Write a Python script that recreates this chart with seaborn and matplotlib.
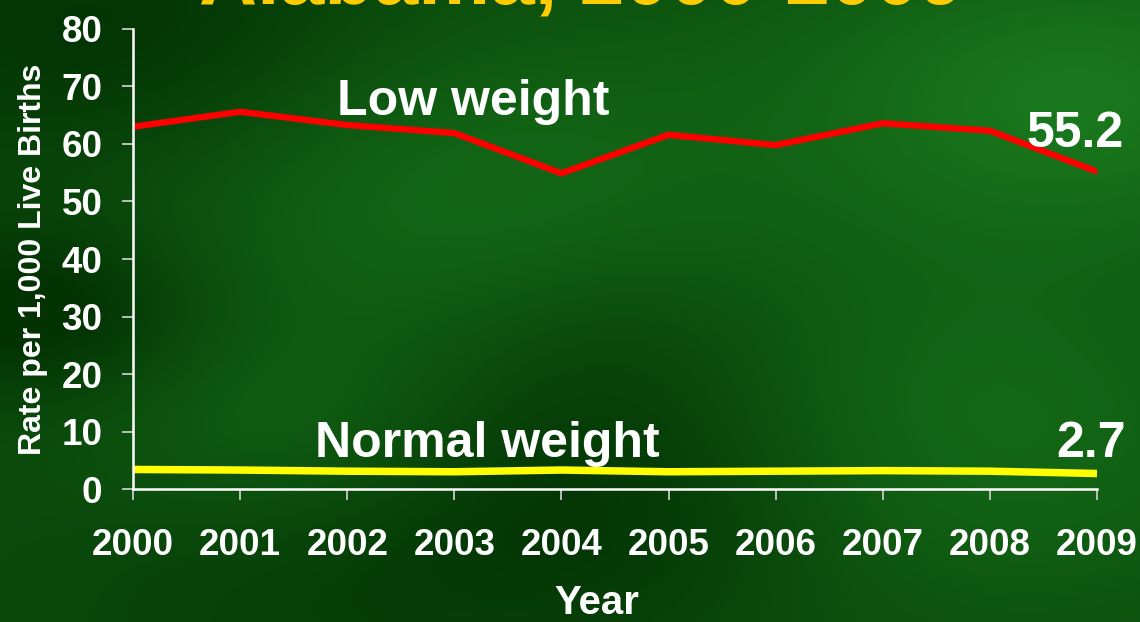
import numpy as np
import pandas as pd
import matplotlib
matplotlib.use("Agg")
import matplotlib.pyplot as plt
from matplotlib.colors import LinearSegmentedColormap
import seaborn as sns

# Data
years = [2000, 2001, 2002, 2003, 2004, 2005, 2006, 2007, 2008, 2009]
low_weight = [63.0, 65.6, 63.3, 61.9, 54.9, 61.6, 59.8, 63.6, 62.3, 55.2]
normal_weight = [3.4, 3.3, 3.1, 3.0, 3.3, 3.0, 3.1, 3.2, 3.1, 2.7]
series_names = ["Low weight", "Normal weight"]
y_ticks = [0, 10, 20, 30, 40, 50, 60, 70, 80]

df = pd.DataFrame({
    "Year": years * 2,
    "Rate": low_weight + normal_weight,
    "Series": [series_names[0]] * len(years) + [series_names[1]] * len(years),
})

sns.set_theme(style="white")
plt.rcParams["font.family"] = ["Liberation Sans", "DejaVu Sans"]
plt.rcParams["font.weight"] = "bold"

fig = plt.figure(figsize=(11.4, 6.22), dpi=100)

# green textured background (smooth blobs, purely decorative)
bg = fig.add_axes([0, 0, 1, 1], zorder=0)
gx, gy = np.meshgrid(np.linspace(0, 1, 400), np.linspace(0, 1, 220))
field = 0.3 + 0.0 * gx
blobs = [(0.4, 0.3, 0.2, 0.3), (0.95, 0.15, 0.18, 0.45), (0.25, 0.7, 0.12, 0.2),
         (0.85, 0.7, 0.2, 0.3), (0.55, 0.8, 0.15, -0.25), (0.03, 0.5, 0.1, -0.35),
         (0.1, 0.05, 0.18, -0.3), (0.55, 0.55, 0.12, -0.15), (0.3, 0.95, 0.2, -0.15)]
for cx, cy, r, a in blobs:
    field += a * np.exp(-((gx - cx) ** 2 + (gy - cy) ** 2) / (2 * r ** 2))
field = np.clip(field, 0, 1)
cmap = LinearSegmentedColormap.from_list("grn", ["#033203", "#0c500e", "#166e19", "#209026"])
bg.imshow(field, cmap=cmap, aspect="auto", extent=[0, 1, 0, 1], origin="upper", vmin=0, vmax=1)
bg.axis("off")

ax = fig.add_axes([0.1167, 0.2138, 0.8456, 0.7396], zorder=1)
ax.patch.set_alpha(0)

sns.lineplot(data=df, x="Year", y="Rate", hue="Series",
             palette={"Low weight": "#ff0000", "Normal weight": "#ffff00"},
             linewidth=4.6, legend=False, ax=ax)
ax.lines[1].set_linewidth(5.4)

ax.set_xlim(2000, 2009)
ax.set_ylim(0, 80)
ax.set_xticks(years)
ax.set_xticklabels([str(y) for y in years])
ax.set_yticks(y_ticks)

for s in ["top", "right"]:
    ax.spines[s].set_visible(False)
for s in ["left", "bottom"]:
    ax.spines[s].set_color("white")
    ax.spines[s].set_linewidth(1.8)

ax.tick_params(axis="y", direction="out", length=8, width=1.3, color="#c8c8c8",
               labelcolor="white", labelsize=26.5, pad=14, left=True)
ax.tick_params(axis="x", direction="out", length=8, width=1.3, color="#c8c8c8",
               labelcolor="white", labelsize=26.5, pad=20, bottom=True)
for lab in ax.get_xticklabels() + ax.get_yticklabels():
    lab.set_fontweight("bold")

ax.set_xlabel("Year", color="white", fontsize=29, fontweight="bold")
ax.xaxis.set_label_coords(0.481, -0.207)
ax.set_ylabel("Rate per 1,000 Live Births", color="white", fontsize=23,
              fontweight="bold", labelpad=10)

# series labels
ax.text(2001.9, 65.0, "Low weight", color="white", fontsize=36, fontweight="bold",
        ha="left", va="baseline", zorder=5)
ax.text(2009.25, 59.5, f"{low_weight[-1]:.1f}", color="white", fontsize=36,
        fontweight="bold", ha="right", va="baseline", zorder=5)
ax.text(2001.7, 5.6, "Normal weight", color="white", fontsize=36, fontweight="bold",
        ha="left", va="baseline", zorder=5)
ax.text(2009.27, 5.6, f"{normal_weight[-1]:.1f}", color="white", fontsize=36,
        fontweight="bold", ha="right", va="baseline", zorder=5)

# title, mostly cropped off the top as in the reference
fig.text(0.51, 0.995, "Alabama, 2000-2009", color="#ffcc00", fontsize=58,
         fontweight="bold", ha="center", va="baseline")

fig.savefig("out.png", dpi=100)
